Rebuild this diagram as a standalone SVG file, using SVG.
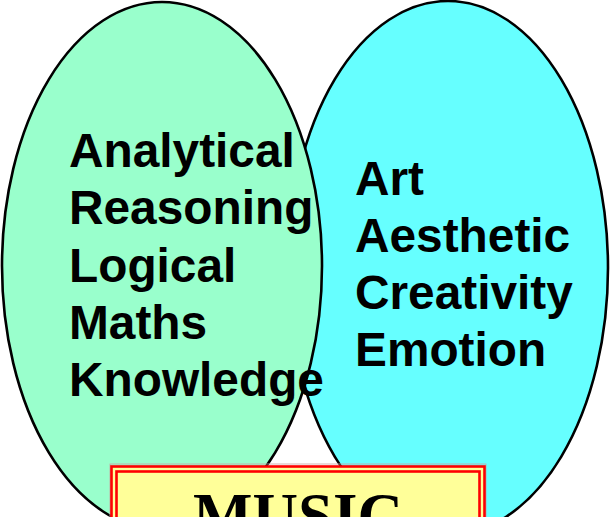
<svg xmlns="http://www.w3.org/2000/svg" width="613" height="517" viewBox="0 0 613 517">
<style>
.ell{stroke:#000;stroke-width:2.6}
.lbl{font-family:"Liberation Sans",Arial,sans-serif;font-weight:bold;font-size:47.8px;fill:#000}
.frame{fill:none;stroke:#FF0000;stroke-width:2.6}
.music{font-family:"Liberation Serif","Times New Roman",serif;font-weight:bold;font-size:63px;fill:#000}
</style>
<rect width="613" height="517" fill="#FFFFFF"/>
<g id="art">
<ellipse class="ell" cx="448" cy="268" rx="160" ry="267" fill="#66FFFF"/>
</g>
<g id="analytical">
<ellipse class="ell" cx="162" cy="266" rx="160" ry="264" fill="#99FFCC"/>
</g>
<g id="analytical-text">
<text class="lbl" x="69" y="167">Analytical</text>
<text class="lbl" x="69" y="224">Reasoning</text>
<text class="lbl" x="69" y="282">Logical</text>
<text class="lbl" x="69" y="339">Maths</text>
<text class="lbl" x="69" y="396">Knowledge</text>
</g>
<g id="art-text">
<text class="lbl" x="355" y="195">Art</text>
<text class="lbl" x="355" y="252">Aesthetic</text>
<text class="lbl" x="355" y="309">Creativity</text>
<text class="lbl" x="355" y="366">Emotion</text>
</g>
<g id="music">
<rect x="110" y="464" width="376" height="80" fill="none" stroke="#C8A0A0" stroke-width="0.8"/>
<rect x="111.5" y="466.5" width="373" height="80" fill="#FFFF99"/>
<rect class="frame" x="111.5" y="466.5" width="373" height="80"/>
<rect class="frame" x="116.5" y="471.5" width="363" height="80"/>
<text class="music" x="298" y="537" text-anchor="middle">MUSIC</text>
</g>
<g id="connectors"/>
</svg>
